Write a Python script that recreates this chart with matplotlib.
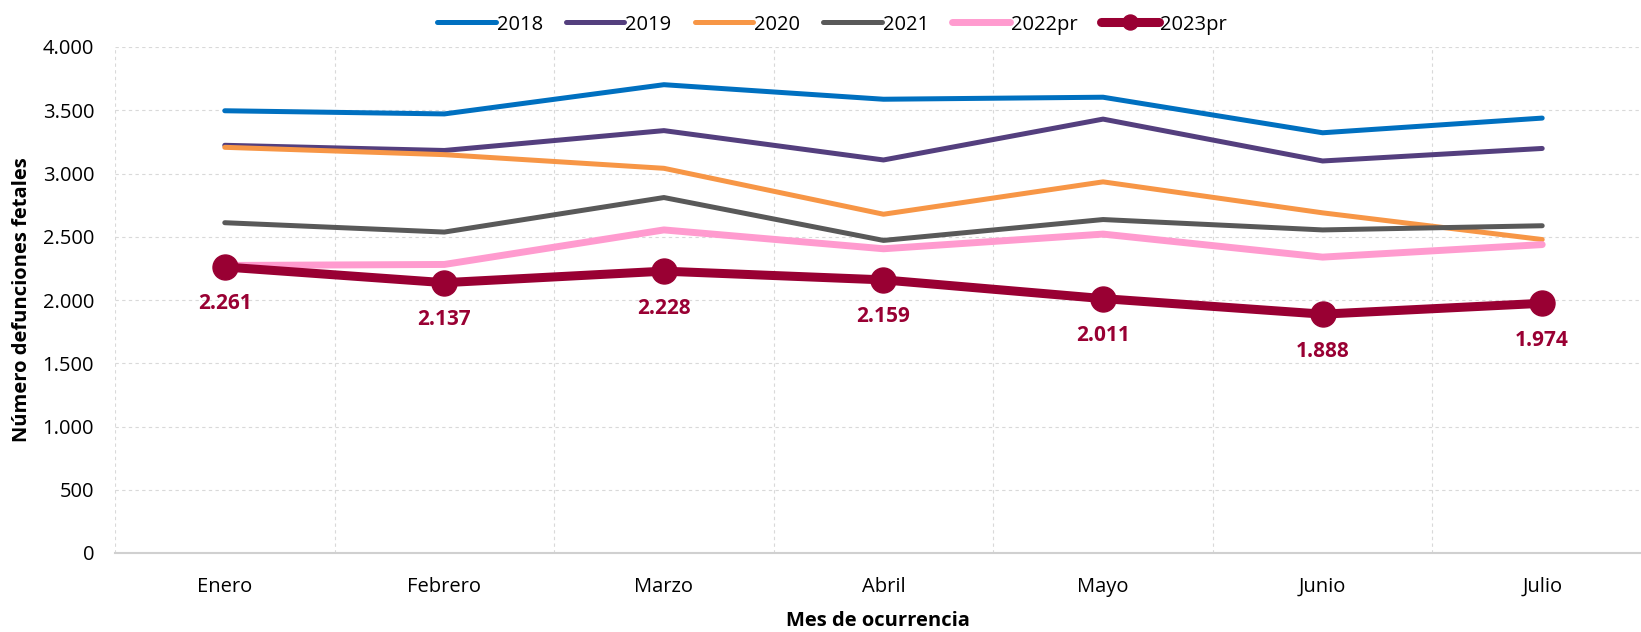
import numpy as np
import matplotlib
matplotlib.use("Agg")
import matplotlib.pyplot as plt
from matplotlib.ticker import FuncFormatter, FixedLocator

plt.rcParams['font.family'] = ['Open Sans', 'DejaVu Sans']

meses = ["Enero", "Febrero", "Marzo", "Abril", "Mayo", "Junio", "Julio"]
v2018 = [3496, 3471, 3702, 3587, 3603, 3322, 3438]
v2019 = [3223, 3182, 3339, 3107, 3430, 3099, 3198]
v2020 = [3207, 3149, 3041, 2678, 2934, 2689, 2478]
v2021 = [2611, 2537, 2810, 2471, 2636, 2554, 2587]
v2022pr = [2273, 2281, 2554, 2405, 2521, 2339, 2438]
v2023pr = [2261, 2137, 2228, 2159, 2011, 1888, 1974]

series = [
    ("2018", v2018, "#0070C0", 3.6),
    ("2019", v2019, "#543F7E", 3.6),
    ("2020", v2020, "#F79646", 3.6),
    ("2021", v2021, "#595959", 3.6),
    ("2022pr", v2022pr, "#FF9BCF", 5.0),
]

fig = plt.figure(figsize=(16.41, 6.32), dpi=100)
ax = fig.add_axes([115 / 1641, 1 - 553 / 632, 1 - 115 / 1641, (553 - 47) / 632])

x = np.arange(len(meses))
for nombre, vals, color, lw in series:
    ax.plot(x, vals, color=color, lw=lw, label=nombre, solid_capstyle='round', zorder=3)

ax.plot(x, v2023pr, color="#990033", lw=6.5, marker='o', markersize=18,
        label="2023pr", solid_capstyle='round', zorder=4)

for xi, v in zip(x, v2023pr):
    ax.annotate(f"{v:,}".replace(",", "."), (xi, v), xytext=(0, -37),
                textcoords='offset pixels', ha='center', va='center',
                fontsize=15, fontweight='bold', color="#990033")

ax.set_xlim(-0.5, 6.45)
ax.set_ylim(0, 4000)
ax.set_yticks(np.arange(0, 4001, 500))
ax.yaxis.set_major_formatter(FuncFormatter(lambda v, p: f"{int(v):,}".replace(",", ".")))
ax.set_xticks(x)
ax.set_xticklabels(meses)
ax.xaxis.set_minor_locator(FixedLocator(np.arange(-0.5, 7, 1)))

ax.grid(True, axis='y', which='major', color='#D9D9D9', ls=(0, (3, 3)), lw=0.8)
ax.grid(True, axis='x', which='minor', color='#D9D9D9', ls=(0, (3, 3)), lw=0.8)
ax.tick_params(axis='both', which='both', length=0, labelsize=14.5, colors='black')
ax.tick_params(axis='x', pad=17)
ax.tick_params(axis='y', pad=15)

for s in ['top', 'right', 'left']:
    ax.spines[s].set_visible(False)
ax.spines['bottom'].set_color('#D0D0D0')
ax.spines['bottom'].set_linewidth(1.5)

ax.set_ylabel("Número defunciones fetales", fontsize=14.5, fontweight='bold', labelpad=8)
ax.set_xlabel("Mes de ocurrencia", fontsize=14.5, fontweight='bold', labelpad=10)

ax.legend(loc='upper center', bbox_to_anchor=(0.47, 1.10), ncol=6, frameon=False,
          fontsize=14.5, handlelength=2.9, handletextpad=0.05, columnspacing=1.15,
          markerscale=0.6)

fig.savefig("out.png", dpi=100)
